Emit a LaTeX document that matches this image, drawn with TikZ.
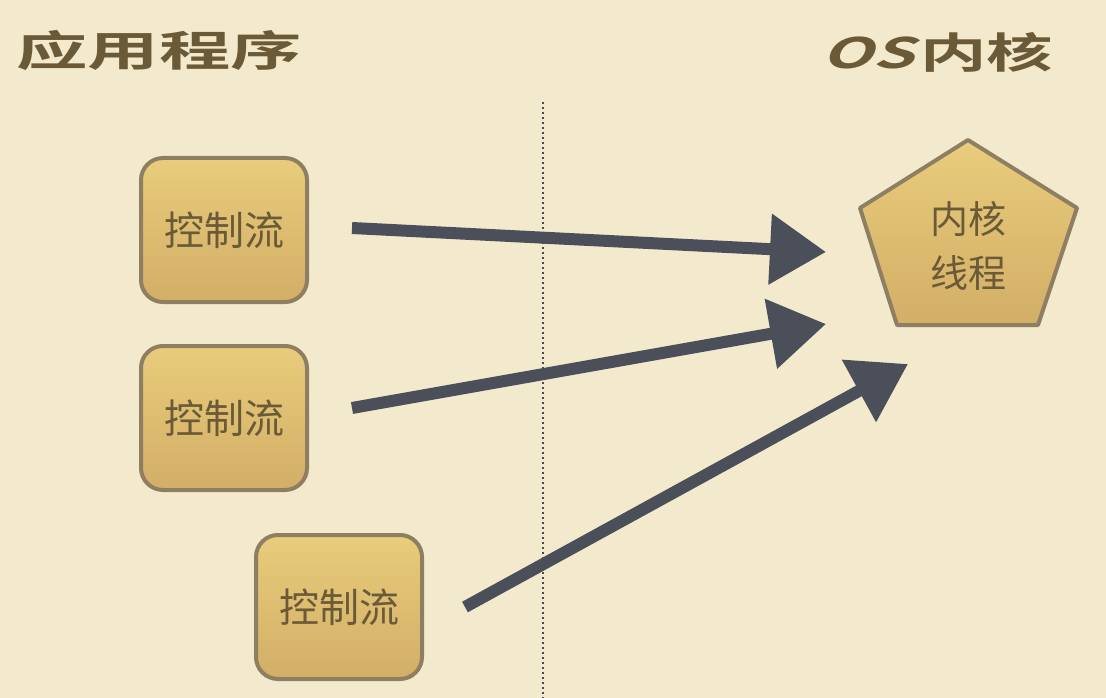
\documentclass[tikz,border=0pt]{standalone}
\usepackage{fontspec}
\newfontfamily\cjk{Noto Sans CJK SC}
\newfontfamily\cjkbold{Noto Sans CJK SC Bold}
\newfontfamily\cjkslant[FakeSlant=0.25]{Noto Sans CJK SC Bold}
\usetikzlibrary{arrows.meta}
\definecolor{paper}{HTML}{F3E9CD}
\definecolor{ink}{HTML}{6B5A37}
\definecolor{boxtop}{HTML}{E9CC7C}
\definecolor{boxbot}{HTML}{D2AE66}
\definecolor{rim}{HTML}{8E7F62}
\definecolor{chalk}{HTML}{4A4F5A}
\tikzset{
  flow/.style = {draw=rim, line width=4pt, rounded corners=22pt, top color=boxtop, bottom color=boxbot,
                 minimum width=166pt, minimum height=144pt, text=ink, font=\cjk\fontsize{40}{44}\selectfont},
  title/.style = {text=ink, font=\cjkbold\fontsize{42}{46}\selectfont, inner sep=0pt},
  bigarrow/.style = {chalk, line width=12pt, -{Triangle[length=56pt, width=68pt]}},
}
\begin{document}
\begin{tikzpicture}[x=1pt, y=-1pt]
\useasboundingbox (0,0) rectangle (1106,698);
\fill[paper] (0,0) rectangle (1106,698);
\node[title] (app) at (159,50) {\scalebox{1.7}[1]{应用程序}};
\node[title] (os) at (937,52) {\scalebox{1.58}[1]{{\cjkslant OS}\kern4pt 内核}};
\draw[dash pattern=on 2pt off 3pt, line width=1.5pt, black!70] (543,102) -- (543,698);
% control flows in user space
\node[flow] (f1) at (224,230) {控制流};
\node[flow] (f2) at (224,418) {控制流};
\node[flow] (f3) at (339,607) {控制流};
% kernel thread
\coordinate (p1) at (968,140);
\coordinate (p2) at (1077,208);
\coordinate (p3) at (1038,325);
\coordinate (p4) at (897,325);
\coordinate (p5) at (860,208);
\draw[draw=rim, line width=4pt, line join=round, top color=boxtop, bottom color=boxbot] (p1) -- (p2) -- (p3) -- (p4) -- (p5) -- cycle;
\node[text=ink, font=\cjk\fontsize{38}{54}\selectfont, align=center] (kt) at (968,246) {内核\\线程};
% many to one
\coordinate (s1) at (352,228);
\coordinate (t1) at (826,252);
\coordinate (s2) at (352,408);
\coordinate (t2) at (826,324);
\coordinate (s3) at (465,607);
\coordinate (t3) at (908,364);
\draw[bigarrow] (s1) -- (t1);
\draw[bigarrow] (s2) -- (t2);
\draw[bigarrow] (s3) -- (t3);
\end{tikzpicture}
\end{document}
